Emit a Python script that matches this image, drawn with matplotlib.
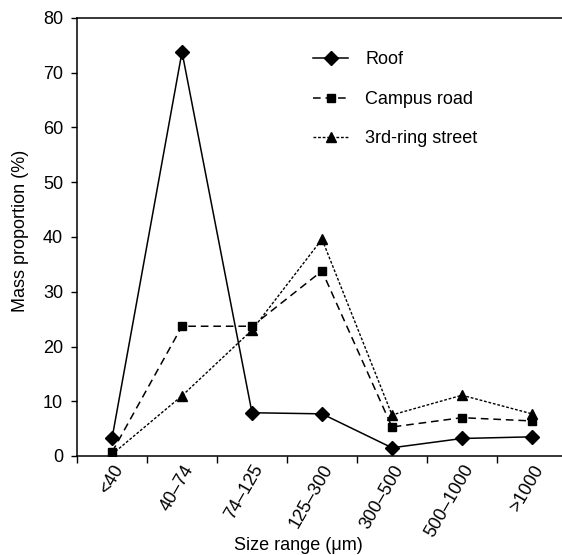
import matplotlib
matplotlib.use("Agg")
import matplotlib.pyplot as plt
import matplotlib.transforms as mtransforms
from matplotlib.ticker import FixedLocator

plt.rcParams['font.family'] = ['Liberation Sans', 'DejaVu Sans']

categories = ["<40", "40\u201374", "74\u2013125", "125\u2013300", "300\u2013500", "500\u20131000", ">1000"]
roof = [3.2, 73.8, 7.9, 7.7, 1.5, 3.2, 3.5]
campus = [0.7, 23.7, 23.7, 33.8, 5.3, 7.0, 6.4]
ring = [0.3, 11.0, 23.0, 39.6, 7.5, 11.1, 7.7]

W, H = 562, 555
fig = plt.figure(figsize=(W / 100, H / 100), dpi=100)
ax = fig.add_axes([77 / W, (H - 456) / H, 490 / W, 438 / H])
x = list(range(len(categories)))

ax.plot(x, roof, color='black', lw=1.1, marker='D', ms=7, label='Roof')
ax.plot(x, campus, color='black', lw=1.1, ls=(0, (5, 3.2)), marker='s', ms=6.2, label='Campus road')
ax.plot(x, ring, color='black', lw=1.0, ls=(0, (2, 1.3)), marker='^', ms=6.5, label='3rd-ring street')

ax.set_xlim(-0.5, len(categories) - 0.5)
ax.set_ylim(0, 80)
ax.set_yticks(range(0, 81, 10))
ax.set_xticks(x)
ax.set_xticklabels(categories, rotation=60, ha='right', va='top', rotation_mode='anchor', fontsize=13)
offset = mtransforms.ScaledTranslation(0.07, 0, fig.dpi_scale_trans)
for lbl in ax.get_xticklabels():
    lbl.set_transform(lbl.get_transform() + offset)
ax.tick_params(axis='x', which='major', length=0, pad=4.3)
ax.xaxis.set_minor_locator(FixedLocator([i - 0.5 for i in range(len(categories) + 1)]))
ax.tick_params(axis='x', which='minor', length=5, width=1, direction='out')
ax.tick_params(axis='y', labelsize=13, length=4.5, width=1, direction='out', pad=5.5)
ax.spines['right'].set_visible(False)
for s in ['left', 'bottom', 'top']:
    ax.spines[s].set_linewidth(1.1)

ax.set_xlabel('Size range (\u03bcm)', fontsize=13, va='center')
ax.xaxis.set_label_coords((298 - 77) / 490, (456 - 546) / 438)
ax.set_ylabel('Mass proportion (%)', fontsize=13, va='center')
ax.yaxis.set_label_coords((21 - 77) / 490, (456 - 231) / 438)

ax.legend(loc='upper left', bbox_to_anchor=((313 - 77) / 490, (456 - 51.5) / 438),
          frameon=False, fontsize=13, borderpad=0, borderaxespad=0,
          handlelength=1.95, labelspacing=1.24, handletextpad=0.95)

fig.savefig('out.png', dpi=100)
